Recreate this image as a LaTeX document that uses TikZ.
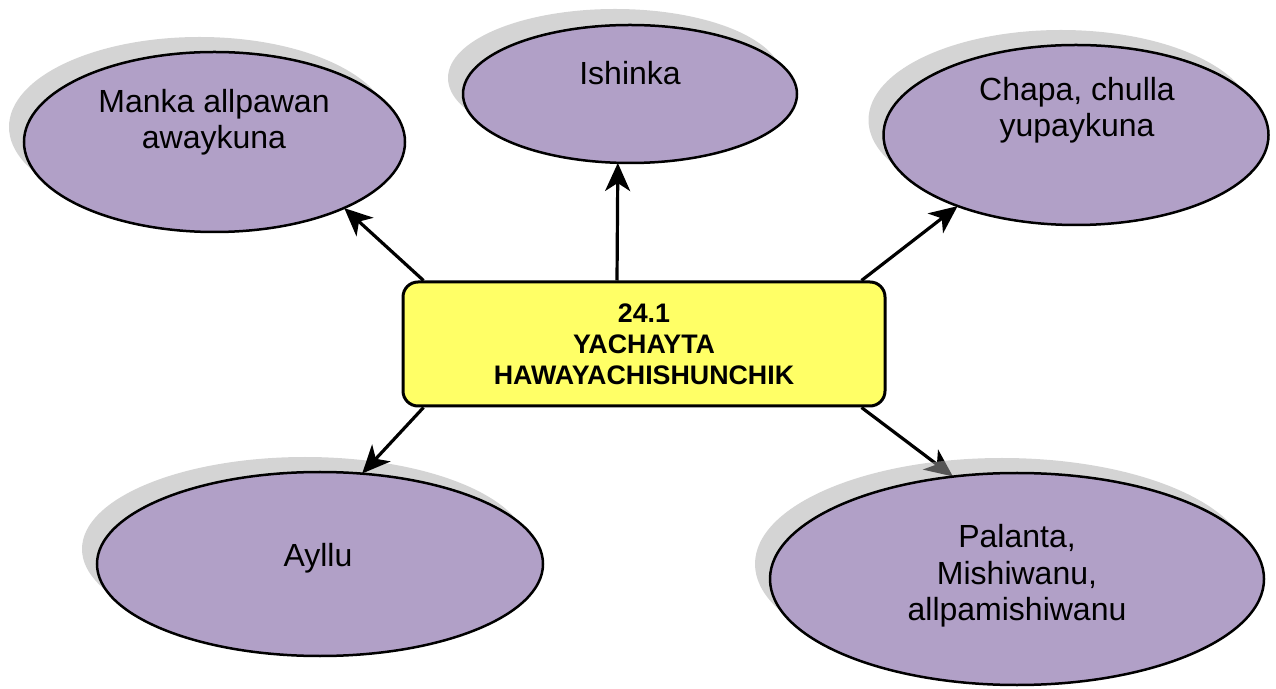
\documentclass[tikz,border=0pt]{standalone}
\usepackage{fontspec}
\setmainfont{Liberation Sans}
\usetikzlibrary{shapes.geometric,arrows.meta,calc}
\definecolor{bubblefill}{RGB}{177,160,199}
\definecolor{hubfill}{RGB}{255,255,102}
\definecolor{shadowgray}{RGB}{170,170,170}
\tikzset{
  bubble/.style={ellipse, draw=black, line width=2.5pt, fill=bubblefill, inner sep=0pt},
  bubbleshadow/.style={fill=shadowgray, fill opacity=0.5},
  bubbletext/.style={align=center, font=\fontsize{32}{36.5}\selectfont, inner sep=0pt},
  hub/.style={rectangle, rounded corners=15pt, draw=black, line width=3pt, fill=hubfill,
    minimum width=482pt, minimum height=124pt, align=center,
    font=\bfseries\fontsize{26.8}{31}\selectfont},
  link/.style={line width=3.2pt, -{Stealth[length=28pt,width=25pt,inset=8pt]}}
}
\begin{document}
\begin{tikzpicture}[x=1pt,y=1pt]
\useasboundingbox (0,0) rectangle (1276,688);

% central box
\node[hub] (hub) at (644,344) {24.1\\YACHAYTA\\HAWAYACHISHUNCHIK};

% connector start points on the box border
\coordinate (s1) at ($(hub.north west)+(22,0)$);
\coordinate (s2) at ($(hub.north)+(-27,0)$);
\coordinate (s3) at ($(hub.north east)+(-25,0)$);
\coordinate (s4) at ($(hub.south west)+(22,0)$);
\coordinate (s5) at ($(hub.south east)+(-25,0)$);

% bubble outlines (placed first so anchors exist), drawn again below on top of shadows
\path (214.5,546) node[ellipse, minimum width=381pt, minimum height=180pt, inner sep=0pt] (e1) {};
\path (630,594) node[ellipse, minimum width=334pt, minimum height=138pt, inner sep=0pt] (e2) {};
\path (1076,553) node[ellipse, minimum width=385pt, minimum height=180pt, inner sep=0pt] (e3) {};
\path (320,124) node[ellipse, minimum width=446pt, minimum height=184pt, inner sep=0pt] (e4) {};
\path (1017,109) node[ellipse, minimum width=494pt, minimum height=212pt, inner sep=0pt] (e5) {};

% this connector runs beneath the translucent shadow
\draw[link] (s5) -- (e5.122);

% shadows
\fill[bubbleshadow] (199.5,561) ellipse (190.5 and 90);
\fill[bubbleshadow] (615,610) ellipse (167 and 69);
\fill[bubbleshadow] (1061,568) ellipse (192.5 and 90);
\fill[bubbleshadow] (305,139) ellipse (223 and 92);
\fill[bubbleshadow] (1002,124) ellipse (247 and 106);

% bubbles
\node[bubble, minimum width=381pt, minimum height=180pt] at (e1) {};
\node[bubble, minimum width=334pt, minimum height=138pt] at (e2) {};
\node[bubble, minimum width=385pt, minimum height=180pt] at (e3) {};
\node[bubble, minimum width=446pt, minimum height=184pt] at (e4) {};
\node[bubble, minimum width=494pt, minimum height=212pt] at (e5) {};

% labels
\node[bubbletext] (t1) at (214,566) {Manka allpawan\\awaykuna};
\node[bubbletext] (t2) at (630,615) {Ishinka};
\node[bubbletext] (t3) at (1077,578) {Chapa, chulla\\yupaykuna};
\node[bubbletext] (t4) at (318,130) {Ayllu};
\node[bubbletext] (t5) at (1017,112) {Palanta,\\Mishiwanu,\\allpamishiwanu};

% connectors
\draw[link] (s1) -- (e1.-27.4);
\draw[link] (s2) -- (e2.-100.4);
\draw[link] (s3) -- (e3.-149.9);
\draw[link] (s4) -- (e4.65.2);
\end{tikzpicture}
\end{document}
